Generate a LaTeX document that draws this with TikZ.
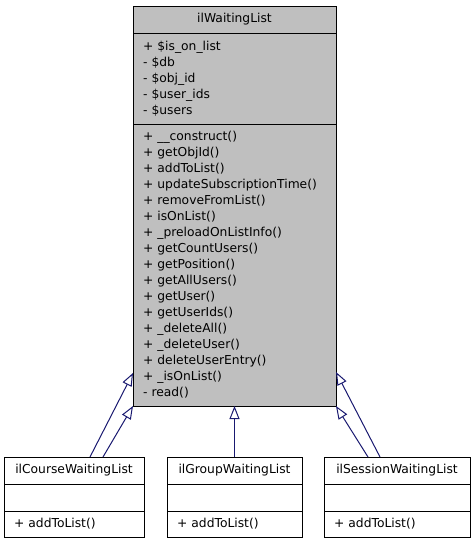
\documentclass[tikz,border=0pt]{standalone}
\usepackage{fontspec}
\setmainfont{DejaVu Sans}
\usetikzlibrary{positioning,arrows.meta}
\definecolor{edgeblue}{HTML}{191970}
\definecolor{boxgray}{HTML}{BFBFBF}

\begin{document}
\begin{tikzpicture}[x=1pt, y=-1pt, line width=1pt,
  part/.style = {draw, outer sep=0pt, inner xsep=10pt, inner ysep=0pt, font=\fontsize{12.3}{16}\selectfont},
  head/.style = {part, align=center, minimum height=27pt},
  list/.style = {part, align=left},
  edge/.style = {draw=edgeblue, -{Triangle[open, length=13pt, width=10pt]}}]
		\useasboundingbox (0,0) rectangle (475,544);
		% base class
		\node[head, fill=boxgray, minimum width=203pt, anchor=north west] (wl) at (133,6) {ilWaitingList};
		\node[list, fill=boxgray, text width=183pt, minimum height=91pt] (wlattr) [below=0pt of wl] {+ \$is\_on\_list\\- \$db\\- \$obj\_id\\- \$user\_ids\\- \$users};
		\node[list, fill=boxgray, text width=183pt, minimum height=282pt] (wlmeth) [below=0pt of wlattr] {+ \_\_construct()\\+ getObjId()\\+ addToList()\\+ updateSubscriptionTime()\\+ removeFromList()\\+ isOnList()\\+ \_preloadOnListInfo()\\+ getCountUsers()\\+ getPosition()\\+ getAllUsers()\\+ getUser()\\+ getUserIds()\\+ \_deleteAll()\\+ \_deleteUser()\\+ deleteUserEntry()\\+ \_isOnList()\\- read()};
		
		% derived classes
		\node[head, fill=white, minimum width=140pt, anchor=north west] (course) at (4,457) {ilCourseWaitingList};
		\node[head, fill=white, minimum width=140pt] (courseattr) [below=0pt of course] {};
		\node[list, fill=white, text width=120pt, minimum height=26pt] (coursemeth) [below=0pt of courseattr] {+ addToList()};
		
		\node[head, fill=white, minimum width=135pt, anchor=north west] (group) at (167,457) {ilGroupWaitingList};
		\node[head, fill=white, minimum width=135pt] (groupattr) [below=0pt of group] {};
		\node[list, fill=white, text width=115pt, minimum height=26pt] (groupmeth) [below=0pt of groupattr] {+ addToList()};
		
		\node[head, fill=white, minimum width=146pt, anchor=north west] (session) at (324,457) {ilSessionWaitingList};
		\node[head, fill=white, minimum width=146pt] (sessionattr) [below=0pt of session] {};
		\node[list, fill=white, text width=126pt, minimum height=26pt] (sessionmeth) [below=0pt of sessionattr] {+ addToList()};
		
		% inheritance
		\draw[edge] ([xshift=16pt]course.north) -- ([yshift=33pt]wlmeth.south west);
		\draw[edge] ([xshift=29pt]course.north) -- (wlmeth.south west);
		\draw[edge] (group.north) -- (group.north |- wlmeth.south);
		\draw[edge] ([xshift=-29pt]session.north) -- (wlmeth.south east);
		\draw[edge] ([xshift=-17pt]session.north) -- ([yshift=34pt]wlmeth.south east);
\end{tikzpicture}
\end{document}
